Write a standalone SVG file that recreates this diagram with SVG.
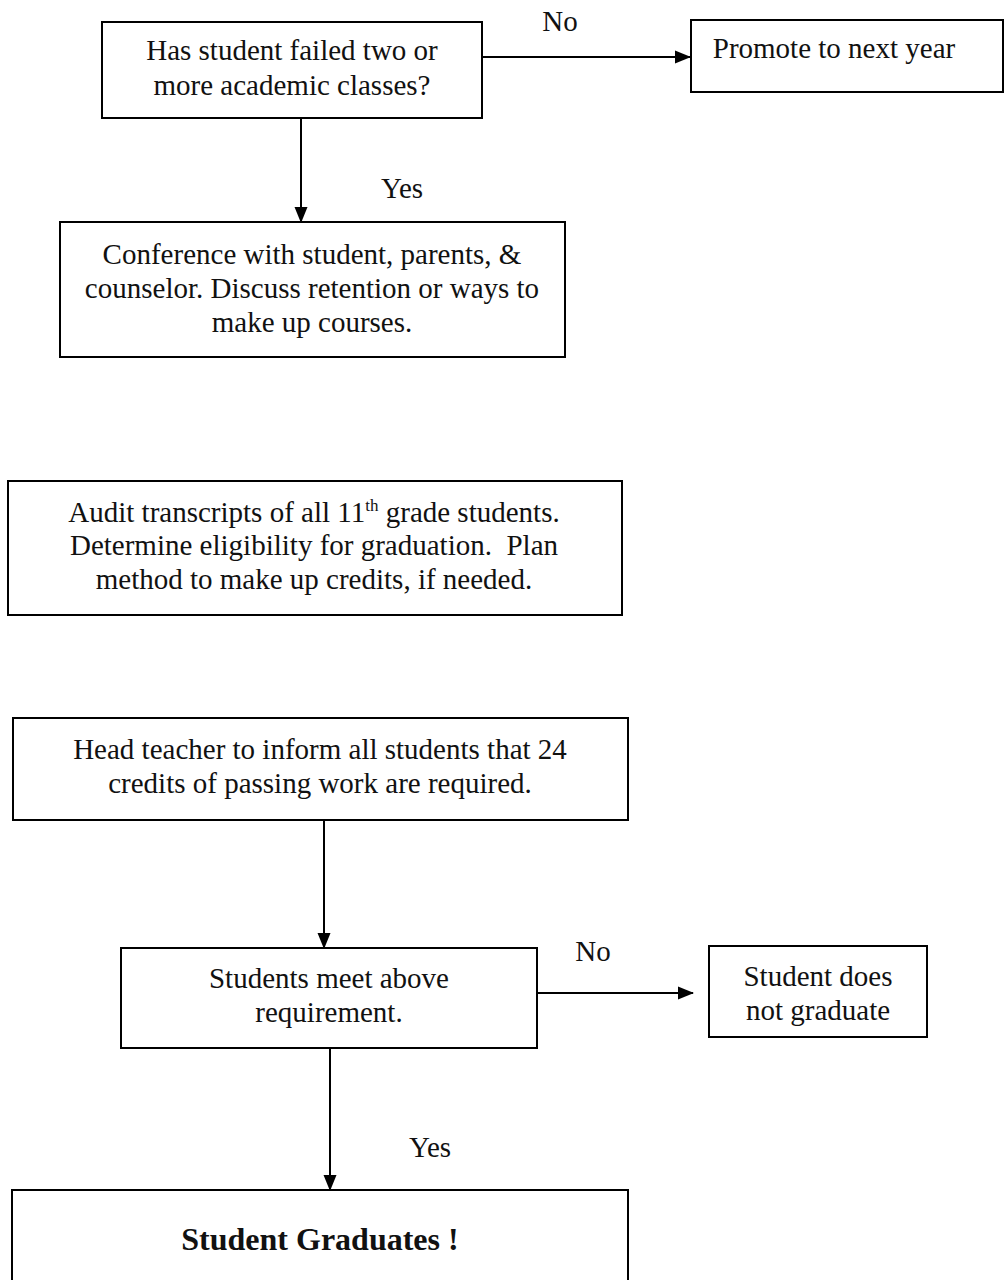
<svg xmlns="http://www.w3.org/2000/svg" width="1005" height="1280" viewBox="0 0 1005 1280">
<style>
.box{fill:#fff;stroke:#000;stroke-width:2}
.t{font-family:"Liberation Serif","Times New Roman",serif;font-size:29px;fill:#111;text-anchor:middle}
.b{font-weight:bold;font-size:32px}
.c{stroke:#000;stroke-width:2;fill:none}
</style>
<defs>
<marker id="ahv" markerWidth="16" markerHeight="16" refX="15" refY="8" orient="auto" markerUnits="userSpaceOnUse" viewBox="0 0 16 16">
<path d="M0,1.5 L16,8 L0,14.5 z" fill="#000"/>
</marker>
</defs>
<rect width="1005" height="1280" fill="#fff"/>
<g id="connectors">
<line class="c" x1="482" y1="57" x2="690" y2="57" marker-end="url(#ahv)"/>
<line class="c" x1="301" y1="118" x2="301" y2="222" marker-end="url(#ahv)"/>
<line class="c" x1="324" y1="820" x2="324" y2="948" marker-end="url(#ahv)"/>
<line class="c" x1="537" y1="993" x2="693" y2="993" marker-end="url(#ahv)"/>
<line class="c" x1="330" y1="1048" x2="330" y2="1190" marker-end="url(#ahv)"/>
<text class="t" x="560" y="31">No</text>
<text class="t" x="402" y="198">Yes</text>
<text class="t" x="593" y="961">No</text>
<text class="t" x="430" y="1157">Yes</text>
</g>
<g id="n1">
<rect class="box" x="102" y="22" width="380" height="96"/>
<text class="t" x="292" y="60">Has student failed two or</text>
<text class="t" x="292" y="95">more academic classes?</text>
</g>
<g id="n2">
<rect class="box" x="691" y="20" width="312" height="72"/>
<text class="t" x="834" y="58">Promote to next year</text>
</g>
<g id="n3">
<rect class="box" x="60" y="222" width="505" height="135"/>
<text class="t" x="312" y="264">Conference with student, parents, &amp;</text>
<text class="t" x="312" y="298">counselor. Discuss retention or ways to</text>
<text class="t" x="312" y="332">make up courses.</text>
</g>
<g id="n4">
<rect class="box" x="8" y="481" width="614" height="134"/>
<text class="t" x="314" y="522">Audit transcripts of all 11<tspan font-size="17" dy="-11">th</tspan><tspan dy="11"> grade students.</tspan></text>
<text class="t" x="314" y="555">Determine eligibility for graduation.&#160; Plan</text>
<text class="t" x="314" y="589">method to make up credits, if needed.</text>
</g>
<g id="n5">
<rect class="box" x="13" y="718" width="615" height="102"/>
<text class="t" x="320" y="759">Head teacher to inform all students that 24</text>
<text class="t" x="320" y="793">credits of passing work are required.</text>
</g>
<g id="n6">
<rect class="box" x="121" y="948" width="416" height="100"/>
<text class="t" x="329" y="988">Students meet above</text>
<text class="t" x="329" y="1022">requirement.</text>
</g>
<g id="n7">
<rect class="box" x="709" y="946" width="218" height="91"/>
<text class="t" x="818" y="986">Student does</text>
<text class="t" x="818" y="1020">not graduate</text>
</g>
<g id="n8">
<rect class="box" x="12" y="1190" width="616" height="100"/>
<text class="t b" x="320" y="1250">Student Graduates !</text>
</g>
</svg>
